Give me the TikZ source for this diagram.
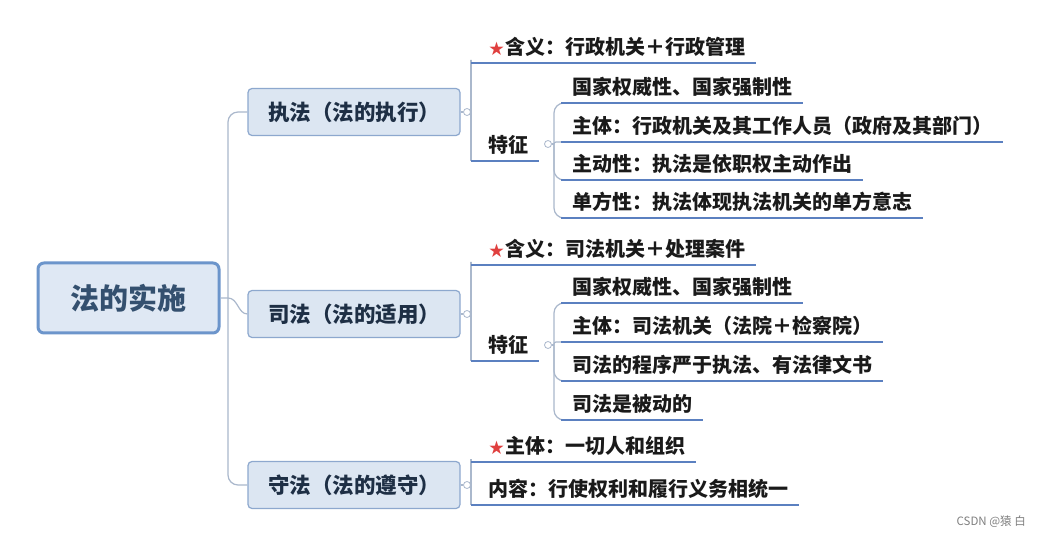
\documentclass[tikz,border=0pt]{standalone}
\usepackage{fontspec}
\setmainfont{Noto Sans CJK SC}
\newfontfamily\cjk{Noto Sans CJK SC}
\definecolor{uline}{HTML}{5B80C0}
\definecolor{connc}{HTML}{AAB8CC}
\definecolor{brfill}{HTML}{DCE6F2}
\definecolor{brdraw}{HTML}{8DA8CE}
\definecolor{rootfill}{HTML}{DFE8F4}
\definecolor{rootdraw}{HTML}{6C95CB}
\definecolor{roottext}{HTML}{34506F}
\definecolor{brtext}{HTML}{1E2F45}
\definecolor{leaftext}{HTML}{1A1A1A}
\definecolor{starred}{HTML}{E0403F}
\newcommand{\redstar}{{\color{starred}\fontsize{15}{15}\selectfont ★}\hspace{1pt}}
\tikzset{
  rootbox/.style={draw=rootdraw, fill=rootfill, line width=3pt, rounded corners=6pt,
    minimum width=181pt, minimum height=70pt, text=roottext,
    font=\cjk\bfseries\fontsize{29}{29}\selectfont},
  brbox/.style={draw=brdraw, fill=brfill, line width=1.2pt, rounded corners=4pt,
    minimum width=212pt, minimum height=47pt, text=brtext,
    font=\cjk\bfseries\fontsize{21.5}{21.5}\selectfont},
  leaf/.style={anchor=south west, inner xsep=11pt, inner ysep=0pt, text height=17pt,
    text depth=8.4pt, text=leaftext, font=\cjk\bfseries\fontsize{20}{20}\selectfont},
  knob/.style={circle, draw=connc, fill=white, line width=0.8pt, inner sep=0pt, minimum size=7pt},
  conn/.style={draw=connc, line width=1.2pt},
  ul/.style={draw=uline, line width=2pt},
}
\newcommand{\uline}[2][0pt]{\draw[ul] ([xshift=-#1]#2.south west) -- (#2.south east);}
\begin{document}
\begin{tikzpicture}[x=1pt,y=-1pt]
\useasboundingbox[fill=white] (0,0) rectangle (1039,537);

% root and branches
\node[rootbox] (root) at (128.5,298) {法的实施};
\node[brbox] (b1) at (354,112) {执法（法的执行）};
\node[brbox] (b2) at (354,314) {司法（法的适用）};
\node[brbox] (b3) at (354,485) {守法（法的遵守）};

\coordinate (trj) at (228,298);
\draw[conn, rounded corners=10pt] (b1.west) -| (trj) |- (b3.west);
\draw[conn] (root.east) -- (trj) .. controls (238,298) and (238,314) .. (b2.west);

% ---------- branch 1
\node[knob] (k1) at (467,112) {};
\draw[conn] (b1.east) -- (k1.west);
\node[leaf] (h1) at (478,63) {\redstar 含义：行政机关＋行政管理};
\node[leaf] (t1) at (477,161) {特征};
\coordinate (v1) at (471,112);
\draw[conn] (k1.east) -- (v1);
\draw[conn, rounded corners=3pt] ([xshift=-7pt]h1.south west) -| (v1) |- ([xshift=-6pt]t1.south west);
\uline[7pt]{h1}
\uline[6pt]{t1}
\node[knob] (k1b) at (548,144) {};
\node[leaf] (a1) at (561,103) {国家权威性、国家强制性};
\node[leaf] (a2) at (561,142) {主体：行政机关及其工作人员（政府及其部门）};
\node[leaf] (a3) at (561,180) {主动性：执法是依职权主动作出};
\node[leaf] (a4) at (561,218) {单方性：执法体现执法机关的单方意志};
\coordinate (w1) at (554,144);
\draw[conn] (k1b.east) -- (w1);
\draw[conn, rounded corners=10pt] (a1.south west) -| (w1) |- (a4.south west);
\draw[conn, rounded corners=2pt] (a2.south west) -| (w1);
\draw[conn, rounded corners=10pt] (a3.south west) -| (w1);
\uline{a1}\uline{a2}\uline{a3}\uline{a4}

% ---------- branch 2
\node[knob] (k2) at (467,314) {};
\draw[conn] (b2.east) -- (k2.west);
\node[leaf] (h2) at (478,265) {\redstar 含义：司法机关＋处理案件};
\node[leaf] (t2) at (477,361) {特征};
\coordinate (v2) at (471,314);
\draw[conn] (k2.east) -- (v2);
\draw[conn, rounded corners=3pt] ([xshift=-7pt]h2.south west) -| (v2) |- ([xshift=-6pt]t2.south west);
\uline[7pt]{h2}
\uline[6pt]{t2}
\node[knob] (k2b) at (548,345) {};
\node[leaf] (s1) at (561,303) {国家权威性、国家强制性};
\node[leaf] (s2) at (561,342) {主体：司法机关（法院＋检察院）};
\node[leaf] (s3) at (561,381) {司法的程序严于执法、有法律文书};
\node[leaf] (s4) at (561,420) {司法是被动的};
\coordinate (w2) at (554,345);
\draw[conn] (k2b.east) -- (w2);
\draw[conn, rounded corners=10pt] (s1.south west) -| (w2) |- (s4.south west);
\draw[conn, rounded corners=2pt] (s2.south west) -| (w2);
\draw[conn, rounded corners=10pt] (s3.south west) -| (w2);
\uline{s1}\uline{s2}\uline{s3}\uline{s4}

% ---------- branch 3
\node[knob] (k3) at (467,485) {};
\draw[conn] (b3.east) -- (k3.west);
\node[leaf] (z1) at (478,462) {\redstar 主体：一切人和组织};
\node[leaf] (z2) at (477,505) {内容：行使权利和履行义务相统一};
\coordinate (v3) at (471,485);
\draw[conn] (k3.east) -- (v3);
\draw[conn, rounded corners=3pt] ([xshift=-7pt]z1.south west) -| (v3) |- ([xshift=-6pt]z2.south west);
\uline[7pt]{z1}
\uline[6pt]{z2}

% watermark
\node[anchor=east, text=gray, font=\cjk\fontsize{11.5}{11.5}\selectfont, inner sep=0pt] (wm) at (1026,522) {CSDN @猿 白};
\end{tikzpicture}
\end{document}
